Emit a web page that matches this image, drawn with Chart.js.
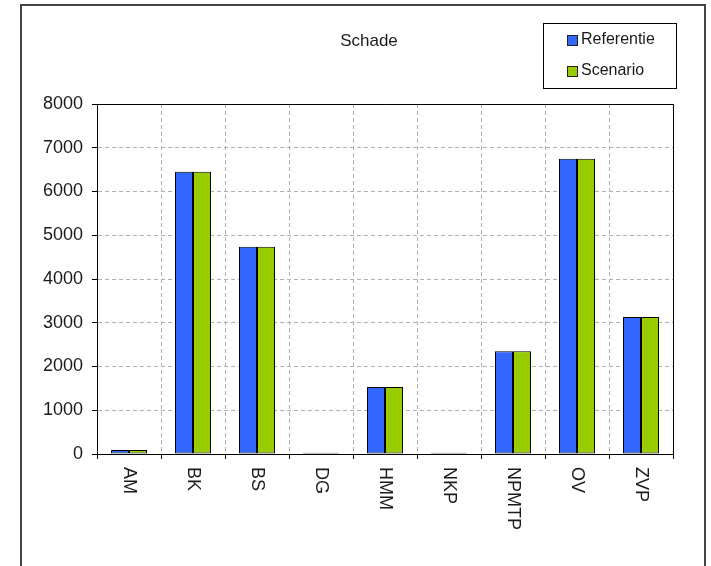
<!DOCTYPE html>
<html>
<head>
<meta charset="utf-8">
<script src="https://cdn.jsdelivr.net/npm/chart.js@4"></script>
<style>
  html, body { margin: 0; padding: 0; background: #fff; }
  #wrap { position: relative; width: 711px; height: 566px; overflow: hidden; }
  #frame { position: absolute; left: 20px; top: 4px; width: 686px; height: 600px; border: 2px solid #444; box-sizing: border-box; }
  #chartCanvas { position: absolute; left: 0; top: 0; }
</style>
</head>
<body>
<div id="wrap">
  <div id="frame"></div>
  <canvas id="chartCanvas" width="711" height="566"></canvas>
</div>
<script>
const categories = ['AM', 'BK', 'BS', 'DG', 'HMM', 'NKP', 'NPMTP', 'OV', 'ZVP'];
const referentie = [90, 6450, 4740, 30, 1530, 30, 2350, 6750, 3130];
const scenario = [90, 6450, 4740, 30, 1530, 30, 2350, 6750, 3130];
const yTicks = [0, 1000, 2000, 3000, 4000, 5000, 6000, 7000, 8000];

const FONT = '"Liberation Sans", Arial, sans-serif';
const TEXT = '#1a1a1a';

// frame on top/right of plot, rotated x labels, title and legend box
const decor = {
    id: 'decor',
    afterDraw(chart) {
        const c = chart.ctx;
        const a = chart.chartArea;
        const xs = chart.scales.x;

        c.save();
        c.strokeStyle = '#000';
        c.lineWidth = 1;
        c.setLineDash([]);
        c.beginPath();
        c.moveTo(a.left, a.top + 0.5);
        c.lineTo(a.right + 0.5, a.top + 0.5);
        c.lineTo(a.right + 0.5, a.bottom);
        c.stroke();

        // x labels read top to bottom
        c.fillStyle = TEXT;
        c.font = '18px ' + FONT;
        c.textAlign = 'left';
        c.textBaseline = 'middle';
        categories.forEach((lab, i) => {
            const x = xs.getPixelForTick(i);
            c.save();
            c.translate(x, a.bottom + 13);
            c.rotate(Math.PI / 2);
            c.fillText(lab, 0, 0);
            c.restore();
        });

        // title
        c.font = '17px ' + FONT;
        c.textAlign = 'center';
        c.fillText('Schade', 369, 41);

        // legend
        c.strokeStyle = '#000';
        c.strokeRect(543.5, 23.5, 133, 65);
        c.font = '16px ' + FONT;
        c.textAlign = 'left';
        chart.data.datasets.forEach((ds, i) => {
            const cy = 40 + i * 31;
            c.fillStyle = ds.backgroundColor;
            c.fillRect(567, cy - 5, 11, 11);
            c.strokeStyle = '#222';
            c.strokeRect(567.5, cy - 4.5, 10, 10);
            c.fillStyle = TEXT;
            c.fillText(ds.label, 581, cy);
        });
        c.restore();
    }
};

new Chart(document.getElementById('chartCanvas'), {
    type: 'bar',
    data: {
        labels: categories,
        datasets: [
            { label: 'Referentie', data: referentie, backgroundColor: '#3366ff', borderColor: '#000', borderWidth: 1, borderSkipped: false },
            { label: 'Scenario', data: scenario, backgroundColor: '#99cc00', borderColor: '#000', borderWidth: 1, borderSkipped: false }
        ]
    },
    options: {
        responsive: false,
        animation: false,
        layout: { padding: { left: 37, right: 38, top: 104, bottom: 12 } },
        plugins: { legend: { display: false }, title: { display: false }, tooltip: { enabled: false } },
        datasets: { bar: { categoryPercentage: 0.5625, barPercentage: 1 } },
        scales: {
            x: {
                afterFit: s => { s.height = 100; },
                ticks: { display: false },
                grid: { color: '#b0b0b0', tickColor: '#000', tickLength: 5, tickBorderDash: [], offset: true },
                border: { color: '#000', width: 1, dash: [4, 3] }
            },
            y: {
                min: 0,
                max: 8000,
                afterFit: s => { s.width = 60; },
                afterBuildTicks: s => { s.ticks = yTicks.map(v => ({ value: v })); },
                ticks: { color: TEXT, font: { family: FONT, size: 18 }, padding: 9, callback: v => String(v) },
                grid: { color: '#b0b0b0', tickColor: '#000', tickLength: 5, tickBorderDash: [] },
                border: { color: '#000', width: 1, dash: [4, 3] }
            }
        }
    },
    plugins: [decor]
});
</script>
</body>
</html>
